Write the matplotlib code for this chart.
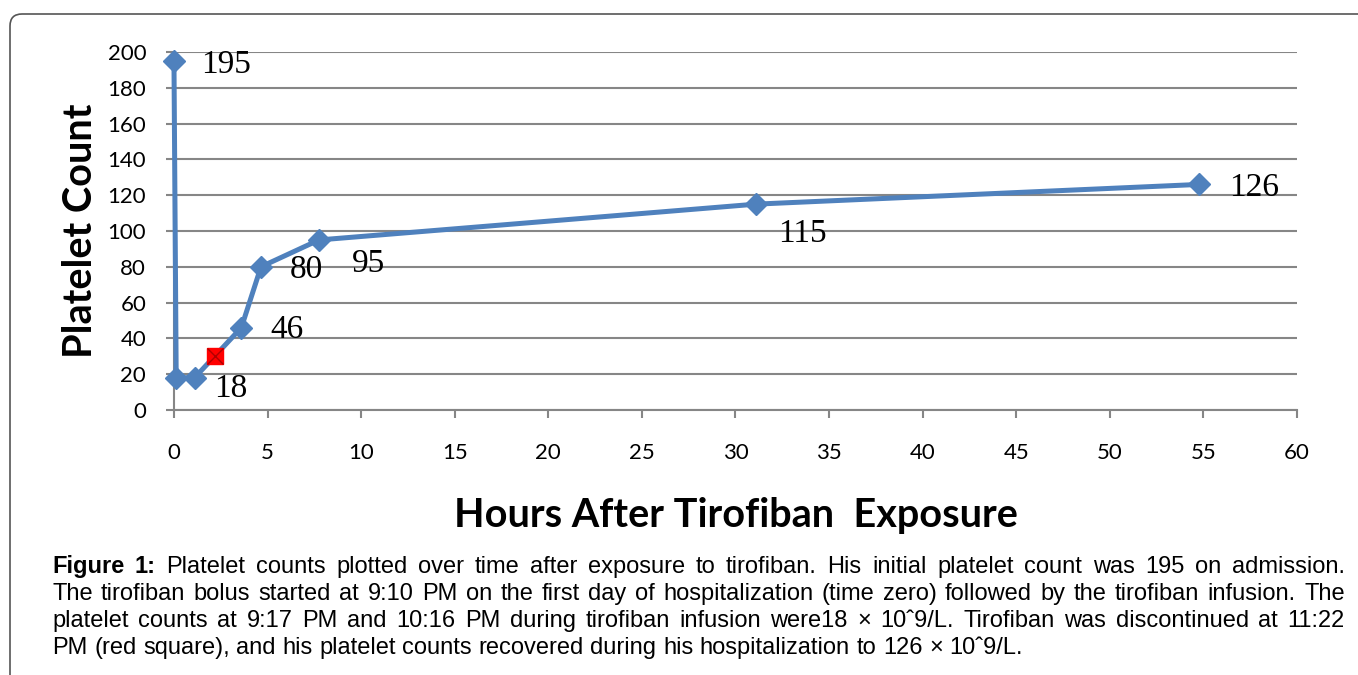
import matplotlib.pyplot as plt
from matplotlib.patches import FancyBboxPatch

# ===== data =====
hours = [0, 0.12, 1.1, 3.6, 4.65, 7.75, 31.1, 54.75]
counts = [195, 18, 18, 46, 80, 95, 115, 126]
point_labels = ['195', '', '18', '46', '80', '95', '115', '126']
stop_hour = [2.2]
stop_count = [30]

x_ticks = list(range(0, 61, 5))
y_ticks = list(range(0, 201, 20))

caption_lines = [
    "Platelet counts plotted over time after exposure to tirofiban. His initial platelet count was 195 on admission.",
    "The tirofiban bolus started at 9:10 PM on the first day of hospitalization (time zero) followed by the tirofiban infusion. The",
    "platelet counts at 9:17 PM and 10:16 PM during tirofiban infusion were18 \u00d7 10\u02c69/L. Tirofiban was discontinued at 11:22",
    "PM (red square), and his platelet counts recovered during his hospitalization to 126 \u00d7 10\u02c69/L.",
]

# label offsets in pixels (style only)
label_offsets = [(27, -4), (0, 0), (20, -11), (29, -2), (29, -3), (33, -24), (22, -30), (30, -3)]

BLUE = '#4F81BD'
GRID = '#868686'
TICK_FONT = 'Lato'

fig = plt.figure(figsize=(13.58, 6.75), dpi=100)
ax = fig.add_axes([0.1281, 0.3926, 0.8270, 0.5304])

ax.plot(hours, counts, color=BLUE, linewidth=3.6, marker='D', markersize=11,
        markerfacecolor=BLUE, markeredgecolor=BLUE, clip_on=False, zorder=3)
ax.plot(stop_hour, stop_count, linestyle='none', marker='s', markersize=12,
        markerfacecolor='#FF0000', markeredgecolor='#FF0000', zorder=4, clip_on=False)
ax.plot(stop_hour, stop_count, linestyle='none', marker='x', markersize=11,
        color='#B00000', markeredgewidth=1.0, zorder=5, clip_on=False)

for h, c, lab, off in zip(hours, counts, point_labels, label_offsets):
    if lab:
        ax.annotate(lab, (h, c), xytext=off, textcoords='offset pixels',
                    ha='left', va='center', fontsize=24, family='Liberation Serif')

ax.set_xlim(0, 60)
ax.set_ylim(0, 200)
ax.set_xticks(x_ticks)
ax.set_yticks(y_ticks)
ax.tick_params(axis='both', direction='out', length=6, width=1.5, color=GRID,
               labelsize=16)
ax.tick_params(axis='x', pad=18)
ax.tick_params(axis='y', pad=14)
for lbl in ax.get_xticklabels() + ax.get_yticklabels():
    lbl.set_family(TICK_FONT)

ax.grid(axis='y', color=GRID, linewidth=1.5)
ax.set_axisbelow(True)
for s in ['top', 'right']:
    ax.spines[s].set_visible(False)
for s in ['left', 'bottom']:
    ax.spines[s].set_color(GRID)
    ax.spines[s].set_linewidth(1.5)

ax.set_xlabel('Hours After Tirofiban  Exposure', fontsize=28.5, fontweight='bold',
              family=TICK_FONT, va='baseline')
ax.xaxis.set_label_coords(0.5, -0.327)
ax.set_ylabel('Platelet Count', fontsize=28.5, fontweight='bold', family=TICK_FONT,
              va='center')
ax.yaxis.set_label_coords(-0.083, 0.5)

# ---- frame ----
frame = FancyBboxPatch((0.10, -1.0), 15.0, 7.61, boxstyle='round,pad=0,rounding_size=0.12',
                       transform=fig.dpi_scale_trans, facecolor='none',
                       edgecolor='#555555', linewidth=1.2)
fig.add_artist(frame)

# ---- caption (justified) ----
W, H = 1358, 675
left_px, right_px = 52, 1345
baselines = [573, 600, 627, 654]
cap_size = 17
renderer = fig.canvas.get_renderer()


def word_width(word, weight='normal'):
    t = fig.text(0, 0, word, fontsize=cap_size, family='Liberation Sans', fontweight=weight)
    w = t.get_window_extent(renderer).width
    t.remove()
    return w


for i, line in enumerate(caption_lines):
    words = line.split(' ')
    items = [(w, 'normal') for w in words]
    if i == 0:
        items = [('Figure', 'bold'), ('1:', 'bold')] + items
    widths = [word_width(w, wt) for w, wt in items]
    space = word_width('a a') - word_width('aa')
    justify = i < len(caption_lines) - 1
    if justify:
        gap = (right_px - left_px - sum(widths)) / (len(items) - 1)
    else:
        gap = space
    x = left_px
    y = 1 - baselines[i] / H
    for (w, wt), wd in zip(items, widths):
        fig.text(x / W, y, w, fontsize=cap_size, family='Liberation Sans',
                 fontweight=wt, va='baseline', ha='left')
        x += wd + gap

fig.savefig('out.png', dpi=100)
